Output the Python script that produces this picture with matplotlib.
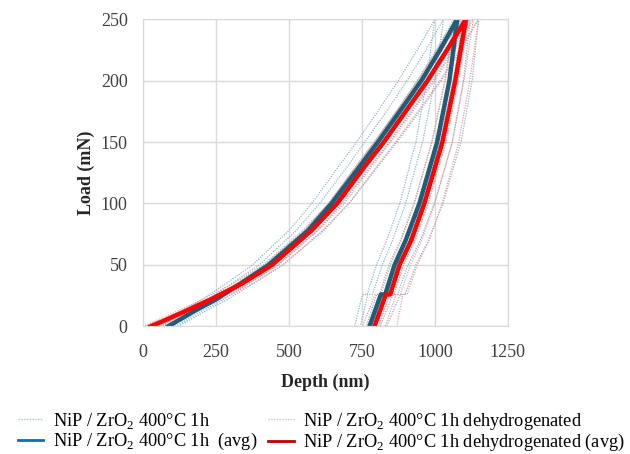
import matplotlib
matplotlib.use("Agg")
import matplotlib.pyplot as plt
from matplotlib.lines import Line2D

plt.rcParams['font.family'] = ['Liberation Serif', 'DejaVu Serif']
plt.rcParams['mathtext.fontset'] = 'custom'
plt.rcParams['mathtext.rm'] = 'Liberation Serif'

# Load levels (mN)
load_up = [0, 5, 13, 22, 35, 50, 78, 100, 130, 150, 175, 200, 225, 250]
load_down = [250, 200, 150, 100, 70, 50, 26, 26, 0]

# NiP / ZrO2 400°C 1h  -- individual indents (depth, nm)
blue_up = [
    [45, 80, 136, 203, 285, 375, 500, 578, 670, 732, 805, 875, 940, 1000],
    [60, 96, 153, 222, 305, 398, 525, 605, 700, 760, 835, 905, 970, 1030],
    [75, 111, 169, 238, 322, 418, 552, 635, 730, 792, 868, 940, 1005, 1065],
    [95, 132, 190, 260, 346, 442, 578, 660, 757, 820, 895, 970, 1035, 1095],
    [110, 147, 205, 276, 362, 460, 598, 682, 780, 845, 920, 995, 1062, 1122],
    [120, 158, 218, 290, 378, 478, 620, 705, 805, 870, 948, 1022, 1090, 1150],
]
blue_down = [
    [1000, 972, 935, 880, 835, 800, 768, 752, 725],
    [1030, 1000, 958, 900, 855, 820, 786, 770, 745],
    [1065, 1035, 990, 930, 885, 848, 815, 800, 765],
    [1095, 1068, 1030, 968, 920, 880, 845, 830, 790],
    [1122, 1098, 1060, 998, 950, 908, 872, 857, 812],
    [1150, 1128, 1090, 1028, 978, 935, 898, 882, 835],
]
# NiP / ZrO2 400°C 1h dehydrogenated -- individual indents
red_up = [
    [0, 48, 122, 204, 310, 412, 547, 637, 728, 793, 868, 942, 1008, 1072],
    [10, 60, 135, 217, 325, 427, 562, 652, 744, 810, 885, 960, 1026, 1090],
    [30, 82, 157, 239, 347, 449, 585, 675, 768, 833, 908, 984, 1050, 1115],
    [45, 96, 171, 253, 362, 464, 599, 690, 783, 848, 924, 1000, 1067, 1132],
    [60, 110, 186, 268, 378, 480, 615, 706, 800, 866, 942, 1018, 1085, 1150],
    [20, 70, 145, 227, 335, 437, 572, 662, 755, 820, 896, 970, 1036, 1100],
]
red_down = [
    [1072, 1035, 990, 928, 882, 843, 810, 795, 752],
    [1090, 1052, 1008, 946, 900, 861, 828, 813, 772],
    [1115, 1080, 1038, 977, 932, 893, 860, 845, 808],
    [1132, 1100, 1060, 1000, 955, 916, 882, 867, 830],
    [1150, 1120, 1082, 1025, 980, 940, 905, 890, 870],
    [1100, 1062, 1018, 956, 910, 870, 838, 823, 783],
]
# averages
blue_avg_up = [86, 122, 180, 250, 335, 430, 565, 646, 742, 805, 880, 954, 1018, 1077]
blue_avg_down = [1077, 1050, 1008, 947, 900, 862, 830, 815, 776]
red_avg_up = [25, 75, 150, 232, 340, 442, 577, 665, 759, 825, 900, 975, 1042, 1107]
red_avg_down = [1107, 1070, 1026, 964, 919, 879, 847, 832, 793]

labels = ["NiP / ZrO$_2$ 400°C 1h",
          "NiP / ZrO$_2$ 400°C 1h  (avg)",
          "NiP / ZrO$_2$ 400°C 1h dehydrogenated",
          "NiP / ZrO$_2$ 400°C 1h dehydrogenated (avg)"]

fig = plt.figure(figsize=(6.3, 4.54), dpi=100)
ax = fig.add_axes([0.227, 0.281, 0.579, 0.677])

thin_blue = '#8FB8D0'
thin_red = '#E8A0A0'
avg_blue = '#215C78'
avg_red = '#FF0000'

for u, d in zip(blue_up, blue_down):
    ax.plot(u + d, load_up + load_down, color=thin_blue, lw=0.9, ls=(0, (1, 1)))
for u, d in zip(red_up, red_down):
    ax.plot(u + d, load_up + load_down, color=thin_red, lw=0.9, ls=(0, (1, 1)))
ax.plot(blue_avg_up + blue_avg_down, load_up + load_down, color=avg_blue, lw=3.2,
        solid_joinstyle='round')
ax.plot(red_avg_up + red_avg_down, load_up + load_down, color=avg_red, lw=3.2,
        solid_joinstyle='round')

ax.set_xlim(0, 1250)
ax.set_ylim(0, 250)
ax.set_xticks([0, 250, 500, 750, 1000, 1250])
ax.set_yticks([0, 50, 100, 150, 200, 250])
ax.grid(True, color='#D9D9D9', lw=1.0)
ax.set_axisbelow(True)
for s in ax.spines.values():
    s.set_color('#D9D9D9')
ax.tick_params(axis='y', length=0, labelsize=13, colors='#404040', pad=11)
ax.tick_params(axis='x', length=0, labelsize=13, colors='#404040', pad=13)
ax.set_xlabel('Depth (nm)', fontsize=13, fontweight='bold', color='#262626', labelpad=9)
ax.set_ylabel('Load (mN)', fontsize=13, fontweight='bold', color='#262626', labelpad=4)

handles = [
    Line2D([], [], color='#9DC3E6', lw=1.0, ls=(0, (1, 1))),
    Line2D([], [], color='#0070C0', lw=2.0),
    Line2D([], [], color='#F4B4B4', lw=1.0, ls=(0, (1, 1))),
    Line2D([], [], color='#C00000', lw=2.0),
]
fig.legend(handles, labels, loc='lower center', bbox_to_anchor=(0.51, -0.018), ncol=2,
           frameon=False, fontsize=13.2, handlelength=1.4, handletextpad=0.5,
           columnspacing=0.6, labelspacing=0.0, borderaxespad=0.1)

fig.savefig('out.png', dpi=100)
